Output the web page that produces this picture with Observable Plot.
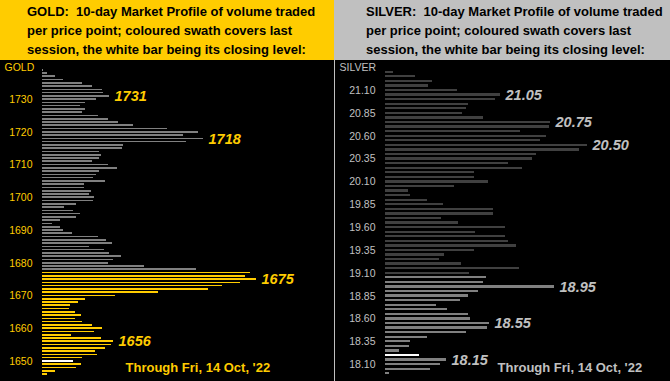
<!DOCTYPE html>
<html><head><meta charset="utf-8">
<script src="https://cdn.jsdelivr.net/npm/d3@7"></script>
<script src="https://cdn.jsdelivr.net/npm/@observablehq/plot@0.6"></script>
<style>
body{margin:0;background:#000;width:670px;height:381px;overflow:hidden;font-family:"Liberation Sans",Arial,sans-serif}
#wrap{display:flex;width:670px;height:381px}
.panel{position:relative;height:381px}
#gold{width:334px}
#silver{width:336px}
.head{height:60px;box-sizing:border-box;font-weight:bold;font-size:13px;line-height:19px;white-space:pre;color:#000;padding-top:2px}
#gold .head{background:#FFCC00;padding-left:27px}
#silver .head{background:#C0C0C0;padding-left:32px}
#silver .chart{border-left:1px solid #C0C0C0}
.chart svg{display:block}
</style>
</head><body>
<div id="wrap">
  <div class="panel" id="gold"><div class="head"></div><div class="chart"></div></div>
  <div class="panel" id="silver"><div class="head"></div><div class="chart"></div></div>
</div>
<script>
// ---------- GOLD ----------
const goldTitle = ["GOLD:  10-day Market Profile of volume traded", "per price point; coloured swath covers last", "session, the white bar being its closing level:"];
const goldPrices = [1739,1738,1737,1736,1735,1734,1733,1732,1731,1730,
  1729,1728,1727,1726,1725,1724,1723,1722,1721,1720,
  1719,1718,1717,1716,1715,1714,1713,1712,1711,1710,
  1709,1708,1707,1706,1705,1704,1703,1702,1701,1700,
  1699,1698,1697,1696,1695,1694,1693,1692,1691,1690,
  1689,1688,1687,1686,1685,1684,1683,1682,1681,1680,
  1679,1678,1677,1676,1675,1674,1673,1672,1671,1670,
  1669,1668,1667,1666,1665,1664,1663,1662,1661,1660,
  1659,1658,1657,1656,1655,1654,1653,1652,1651,1650,
  1649,1648,1647,1646];
const goldVolumes = [1,5,13,21,40,50,60,61,67,54,
  43,38,43,40,56,66,76,91,125,156,
  141,161,144,81,80,57,59,57,50,66,
  75,57,54,51,63,42,42,49,47,52,
  51,34,22,31,38,34,18,10,18,21,
  30,56,64,70,47,62,67,79,71,66,
  102,154,208,203,214,198,180,166,116,73,
  43,36,28,27,33,39,33,40,50,60,
  52,29,59,71,69,63,53,55,40,31,
  39,34,13,5];
const goldSessionLow = 1646, goldSessionHigh = 1677, goldClose = 1650;
const goldTicks = [1730,1720,1710,1700,1690,1680,1670,1660,1650];
const goldLabels = [1731,1718,1675,1656];

// ---------- SILVER ----------
const silverTitle = ["SILVER:  10-day Market Profile of volume traded", "per price point; coloured swath covers last", "session, the white bar being its closing level:"];
const silverPrices = [21.30,21.25,21.20,21.15,21.10,21.05,21.00,20.95,20.90,20.85,
  20.80,20.75,20.70,20.65,20.60,20.55,20.50,20.45,20.40,20.35,
  20.30,20.25,20.20,20.15,20.10,20.05,20.00,19.95,19.90,19.85,
  19.80,19.75,19.70,19.65,19.60,19.55,19.50,19.45,19.40,19.35,
  19.30,19.25,19.20,19.15,19.10,19.05,19.00,18.95,18.90,18.85,
  18.80,18.75,18.70,18.65,18.60,18.55,18.50,18.45,18.40,18.35,
  18.30,18.25,18.20,18.15,18.10,18.05,18.00];
const silverVolumes = [8,30,47,43,72,115,110,83,81,77,
  98,165,164,135,161,155,202,194,151,147,
  123,137,89,89,103,69,23,25,42,58,
  108,108,56,73,120,90,120,123,131,89,
  59,54,76,134,84,101,98,169,93,83,
  75,51,62,83,85,104,102,81,42,25,
  24,14,34,61,55,45,4];
const silverSessionLow = 18.00, silverSessionHigh = 19.05, silverClose = 18.20;
const silverTicks = [21.10,20.85,20.60,20.35,20.10,19.85,19.60,19.35,19.10,18.85,18.60,18.35,18.10];
const silverLabels = [21.05,20.75,20.50,18.95,18.55,18.15];

const throughText = "Through Fri, 14 Oct, '22";

function profile(o) {
  const data = o.prices.map((p, i) => ({p, v: o.volumes[i]}));
  const eq = (a, b) => Math.abs(a - b) < 1e-6;
  const col = d => eq(d.p, o.close) ? "#FFFFFF"
    : (d.p >= o.low - 1e-6 && d.p <= o.high + 1e-6) ? o.swath : o.base;
  const lab = data.filter(d => o.labels.some(l => eq(l, d.p)));
  return Plot.plot({
    width: o.width, height: 321,
    marginLeft: o.marginLeft, marginRight: 0, marginTop: 0, marginBottom: 0,
    x: {domain: [0, o.xMax], axis: null},
    y: {domain: o.yDomain},
    style: {background: "#000", fontFamily: "'Liberation Sans', Arial, sans-serif", overflow: "visible"},
    marks: [
      Plot.rect(data, {x1: 0, x2: "v", y1: d => d.p - o.half, y2: d => d.p + o.half, fill: col, shapeRendering: "crispEdges"}),
      Plot.axisY(o.ticks, {tickSize: 0, tickPadding: 10, tickFormat: o.fmt, color: o.tickColor, fontSize: 10.5, label: null}),
      Plot.text(lab, {x: "v", y: "p", text: d => o.fmt(d.p), dx: 5, textAnchor: "start", fill: o.labelColor,
        fontSize: 14.5, fontWeight: "bold", fontStyle: "italic"}),
      Plot.text([o.name], {frameAnchor: "top-left", dx: -(o.marginLeft - 4), dy: 7, textAnchor: "start", lineAnchor: "middle",
        fill: o.tickColor, fontSize: 10.5}),
      Plot.text([throughText], {frameAnchor: "bottom-left", dx: o.throughX, dy: -14, textAnchor: "start", lineAnchor: "middle",
        fill: o.labelColor, fontSize: 13, fontWeight: "bold"})
    ]
  });
}

function header(sel, lines) {
  document.querySelector(sel + " .head").textContent = lines.join("\n");
}
header("#gold", goldTitle);
header("#silver", silverTitle);

document.querySelector("#gold .chart").append(profile({
  prices: goldPrices, volumes: goldVolumes, low: goldSessionLow, high: goldSessionHigh, close: goldClose,
  ticks: goldTicks, labels: goldLabels, fmt: d3.format("d"), name: "GOLD",
  base: "#808080", swath: "#FFCC00", tickColor: "#FFCC00", labelColor: "#FFCC00",
  width: 334, marginLeft: 42, xMax: 292, yDomain: [1643.86, 1741.96], half: 0.25, throughX: 83
}));
document.querySelector("#silver .chart").append(profile({
  prices: silverPrices, volumes: silverVolumes, low: silverSessionLow, high: silverSessionHigh, close: silverClose,
  ticks: silverTicks, labels: silverLabels, fmt: d3.format(".2f"), name: "SILVER",
  base: "#404040", swath: "#808080", tickColor: "#C0C0C0", labelColor: "#C0C0C0",
  width: 335, marginLeft: 50, xMax: 285, yDomain: [17.916, 21.428], half: 0.0125, throughX: 112
}));
</script>
</body></html>
